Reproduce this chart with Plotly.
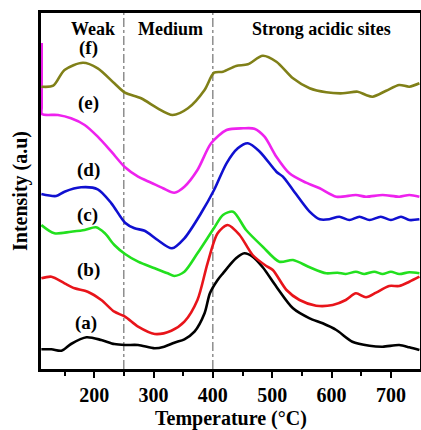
import plotly.graph_objects as go

# Temperature (°C) and intensity (arbitrary units, offset stacked)
temp_a = [111, 128, 145, 161, 187, 212, 234, 252, 274, 302, 318, 335, 352, 369, 386, 395, 408, 417, 439, 453, 467, 484, 507, 535, 563, 585, 608, 635, 664, 686, 714, 731, 748]
int_a = [19.7, 19.7, 18.3, 25, 31.7, 29, 25, 24, 24, 20.7, 22.3, 26.3, 29.7, 37.3, 55.7, 75.7, 89, 95.7, 110.7, 115.7, 112.3, 101.7, 82.3, 60.7, 50.7, 45.7, 39, 27.3, 23.3, 22.3, 24, 21.7, 19]

temp_b = [111, 128, 150, 167, 189, 212, 234, 252, 274, 302, 330, 352, 374, 391, 408, 425, 445, 467, 490, 501, 524, 546, 574, 602, 624, 641, 658, 675, 697, 714, 731, 748]
int_b = [90.7, 92.3, 85.7, 80.7, 77.3, 69, 57.3, 52.3, 42.3, 35, 38.3, 47.3, 69, 105.7, 135.7, 144, 134, 114, 103, 99, 79, 69, 63.3, 64, 69, 75.7, 71.7, 76.3, 83, 83, 87.3, 92.3]

temp_c = [111, 133, 161, 184, 203, 218, 234, 252, 274, 302, 324, 335, 352, 374, 402, 417, 434, 456, 484, 512, 535, 563, 591, 610, 624, 641, 655, 672, 686, 700, 714, 731, 748]
int_c = [144, 135.7, 137.3, 139, 141.7, 135.7, 124, 115, 107.3, 100.7, 95.7, 93, 97.3, 115.7, 141, 154, 157.3, 139, 122.3, 107.3, 109, 101.7, 95.7, 96.3, 95, 97.3, 95, 97.3, 95, 97.3, 95, 96.7, 95.7]

temp_d = [111, 136, 150, 178, 206, 229, 252, 268, 285, 307, 331, 352, 380, 402, 423, 442, 459, 479, 507, 518, 535, 563, 580, 596, 613, 630, 647, 664, 683, 700, 717, 731, 748]
int_d = [175, 173, 177.3, 181.7, 179.7, 165.7, 146.3, 140.7, 138.3, 129, 120.7, 130.7, 155.7, 179, 205.7, 220.7, 225.7, 217.3, 197.3, 192.3, 179, 157.3, 149.7, 149.7, 152.3, 149, 152.3, 149, 152.3, 149, 152.3, 149, 149.7]

temp_e = [111.6, 111.6, 111.6, 112, 139, 161, 184, 206, 229, 252, 274, 296, 316, 335, 352, 374, 397, 423, 451, 470, 487, 507, 529, 557, 580, 608, 641, 658, 686, 714, 731, 748]
int_e = [326, 300, 262, 255, 254, 250.7, 244, 232.3, 217.3, 201.7, 192.3, 186.3, 180.7, 176.3, 182.3, 199, 225.7, 239, 240.7, 240.3, 232.3, 212.3, 195.7, 186.3, 180.7, 172.3, 174, 172.3, 174, 172.3, 174, 172.3]

temp_f = [111, 131, 150, 181, 206, 234, 252, 279, 307, 332, 358, 386, 402, 417, 439, 459, 484, 507, 535, 563, 591, 619, 644, 658, 669, 692, 714, 731, 748]
int_f = [282.3, 283.3, 299, 306.3, 300.7, 285.7, 276.3, 270.7, 260.7, 254, 260.7, 279, 296.3, 297.3, 303, 304.7, 313.3, 307.3, 290.7, 280.7, 276.7, 275.7, 277.3, 274, 272.3, 278.3, 284, 282.3, 285.7]

series_names = ["(a)", "(b)", "(c)", "(d)", "(e)", "(f)"]
series_colors = ["#000000", "#e8141a", "#22e01e", "#1010d0", "#ee22ee", "#808018"]
label_pos_t = [186, 191, 189, 191, 191, 191]
label_pos_v = [46, 99, 154, 199, 266, 321]

region_names = ["Weak", "Medium", "Strong acidic sites"]
region_t = [198, 328, 583]
region_v = 340
boundaries = [250, 400]

x_ticks = [200, 300, 400, 500, 600, 700]
x_title = "Temperature (°C)"
y_title = "Intensity (a.u)"

temps = [temp_a, temp_b, temp_c, temp_d, temp_e, temp_f]
ints = [int_a, int_b, int_c, int_d, int_e, int_f]

FONT = "Liberation Serif"

fig = go.Figure()
for t, v, name, col in zip(temps, ints, series_names, series_colors):
    fig.add_trace(go.Scatter(x=t, y=v, mode="lines", name=name,
                             line=dict(color=col, width=2.6, shape="spline", smoothing=0.8),
                             showlegend=False, hoverinfo="skip"))

for b in boundaries:
    fig.add_shape(type="line", x0=b, x1=b, y0=0, y1=1, xref="x", yref="paper",
                  line=dict(color="#555555", width=1, dash="dashdot"), layer="below")

for name, t, v in zip(series_names, label_pos_t, label_pos_v):
    fig.add_annotation(x=t, y=v, text="<b>" + name + "</b>", showarrow=False,
                       font=dict(family=FONT, size=19, color="black"))

for name, t in zip(region_names, region_t):
    fig.add_annotation(x=t, y=region_v, text="<b>" + name + "</b>", showarrow=False,
                       font=dict(family=FONT, size=18, color="black"))

fig.add_annotation(x=0.5, y=0, xref="paper", yref="paper", yshift=-49,
                   xanchor="center", yanchor="middle",
                   text="<b>" + x_title + "</b>", showarrow=False,
                   font=dict(family=FONT, size=20, color="black"))
fig.add_annotation(x=0, y=0.5, xref="paper", yref="paper", xshift=-21,
                   xanchor="center", yanchor="middle",
                   text="<b>" + y_title + "</b>", showarrow=False, textangle=-90,
                   font=dict(family=FONT, size=20, color="black"))

fig.update_layout(
    width=421, height=430,
    margin=dict(l=41, r=1, t=13, b=61),
    plot_bgcolor="white", paper_bgcolor="white",
    font=dict(family=FONT, color="black"),
)
fig.update_xaxes(
    range=[110.4, 749], tickvals=x_ticks, ticktext=["<b>%d</b>" % v for v in x_ticks],
    showgrid=False, zeroline=False, automargin=False,
    showline=True, linecolor="black", linewidth=2.5, mirror=True,
    ticks="outside", ticklen=6, tickwidth=2, tickcolor="black",
    minor=dict(dtick=50, tick0=150, ticks="outside", ticklen=4, tickwidth=2, tickcolor="black"),
    tickfont=dict(family=FONT, size=20, color="black"),
)
fig.update_yaxes(
    range=[0, 356], showticklabels=False, showgrid=False, zeroline=False, automargin=False,
    showline=True, linecolor="black", linewidth=2.5, mirror=True, ticks="",
    layer="below traces",
)

fig.write_html("out.html", config={"displayModeBar": False},
               post_script="document.body.style.margin='0';document.body.style.overflow='hidden';")
